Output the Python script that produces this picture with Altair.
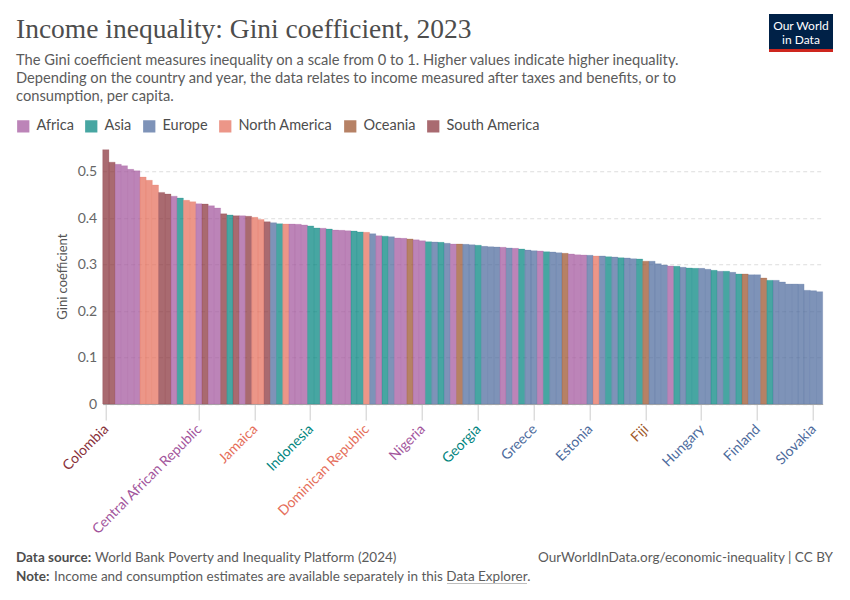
import altair as alt
import pandas as pd

# ---------------- data ----------------
continents = ["Africa", "Asia", "Europe", "North America", "Oceania", "South America"]
code_names = {"AF": "Africa", "AS": "Asia", "EU": "Europe",
              "NA": "North America", "OC": "Oceania", "SA": "South America"}

# continent of each bar, in descending order of Gini
bar_continent = (
    "SA SA AF AF AF AF NA NA NA SA "
    "SA AF AS NA NA AF SA AF AF SA "
    "AS SA AF SA NA NA SA EU AS NA "
    "AF AF AF AS AS AF AS AF AF AF "
    "AS AS NA EU AF AS EU AF AF OC "
    "AF AF AS EU AS EU AF OC EU EU "
    "AS EU EU EU AF EU AF AS EU EU "
    "AF AS EU EU OC AF AF AF EU NA "
    "EU AS EU AS EU EU AS OC EU EU "
    "EU AF AS EU AS AS EU EU AS EU "
    "AS EU AS OC EU EU OC AS EU EU "
    "EU EU EU EU EU EU"
).split()

gini = [0.547, 0.520, 0.5155, 0.5125, 0.5047, 0.5017, 0.488, 0.481, 0.471, 0.455,
        0.4516, 0.447, 0.443, 0.438, 0.435, 0.4308, 0.430, 0.4265, 0.4215, 0.409,
        0.4065, 0.405, 0.405, 0.4037, 0.4015, 0.397, 0.392, 0.390, 0.3877, 0.387,
        0.387, 0.3865, 0.385, 0.383, 0.3785, 0.378, 0.3763, 0.374, 0.3735, 0.3727,
        0.372, 0.370, 0.3692, 0.3662, 0.362, 0.361, 0.3598, 0.357, 0.3563, 0.355,
        0.353, 0.3512, 0.349, 0.3484, 0.3477, 0.3456, 0.344, 0.344, 0.3434, 0.3426,
        0.3413, 0.339, 0.3383, 0.3376, 0.337, 0.3355, 0.3348, 0.3333, 0.331, 0.3297,
        0.329, 0.3275, 0.3269, 0.3254, 0.324, 0.3226, 0.321, 0.3204, 0.3198, 0.3183,
        0.3183, 0.3168, 0.316, 0.3146, 0.314, 0.3125, 0.3118, 0.307, 0.307, 0.3017,
        0.299, 0.2968, 0.2961, 0.294, 0.2925, 0.2918, 0.2918, 0.2897, 0.2875, 0.2854,
        0.2854, 0.2832, 0.2796, 0.2796, 0.278, 0.278, 0.271, 0.266, 0.266, 0.2624,
        0.258, 0.258, 0.2578, 0.2445, 0.2437, 0.2415]

# bar rank -> country name shown on the axis
label_ranks = [1, 16, 25, 34, 43, 52, 61, 70, 79, 88, 97, 106, 115]
label_names = ["Colombia", "Central African Republic", "Jamaica", "Indonesia",
               "Dominican Republic", "Nigeria", "Georgia", "Greece", "Estonia",
               "Fiji", "Hungary", "Finland", "Slovakia"]

y_ticks = [0, 0.1, 0.2, 0.3, 0.4, 0.5]

# ---------------- styles ----------------
bar_colors = ["#A2559C", "#00847E", "#4C6A9C", "#E56E5A", "#9A5129", "#883039"]
label_colors = ["#A2559C", "#00847E", "#4C6A9C", "#E56E5A", "#A0592C", "#883039"]

ranks = list(range(1, len(gini) + 1))
names = dict(zip(label_ranks, label_names))
df = pd.DataFrame({
    "rank": ranks,
    "gini": gini,
    "continent": [code_names[c] for c in bar_continent],
    "country": [names.get(r, "") for r in ranks],
})
df_lab = df[df["country"] != ""]

W, H = 720, 255.75
X0, Y0 = 102.7, 148.25  # page position of plot origin


def px(x):
    return x - X0


def py(y):
    return y - Y0


one = pd.DataFrame({"a": [0]})


def txt(s, x, y, size=13.5, color="#5b5b5b", weight="normal", font="Lato", align="left", baseline="alphabetic"):
    return alt.Chart(one).mark_text(
        text=s, font=font, fontSize=size, color=color, fontWeight=weight,
        align=align, baseline=baseline
    ).encode(x=alt.value(px(x)), y=alt.value(py(y)))


xscale = alt.Scale(paddingInner=0, paddingOuter=0)

bars = alt.Chart(df).mark_bar(fillOpacity=0.72, strokeWidth=0.6, strokeOpacity=0.35).encode(
    x=alt.X("rank:O", sort=None, scale=xscale,
            axis=alt.Axis(values=label_ranks, labels=False, ticks=True, tickSize=16,
                          tickColor="#cccccc", domainColor="#aaaaaa", grid=False, title=None)),
    y=alt.Y("gini:Q", scale=alt.Scale(domain=[0, 0.55], nice=False),
            axis=alt.Axis(values=y_ticks, format="~g", labelFont="Lato", labelFontSize=14,
                          labelColor="#666666", labelPadding=6, ticks=False, domain=False,
                          grid=True, gridColor="#dddddd", gridDash=[4, 3],
                          title="Gini coefficient", titleFont="Lato", titleFontSize=13,
                          titleFontWeight="normal", titleColor="#555555", titlePadding=8)),
    color=alt.Color("continent:N", scale=alt.Scale(domain=continents, range=bar_colors),
                    legend=alt.Legend(orient="none", legendX=px(16), legendY=py(119),
                                      direction="horizontal", title=None, symbolType="square",
                                      symbolSize=150, symbolOpacity=0.72, symbolStrokeWidth=0,
                                      labelFont="Lato", labelFontSize=14.5, labelColor="#4d4d4d",
                                      labelOffset=6, columnPadding=10)),
    stroke=alt.Stroke("continent:N", scale=alt.Scale(domain=continents, range=bar_colors), legend=None),
)

labels = alt.Chart(df_lab).mark_text(angle=315, align="right", baseline="middle",
                                     font="Lato", fontSize=14, dx=1).encode(
    x=alt.X("rank:O", sort=None, scale=xscale),
    y=alt.value(H + 24),
    text="country:N",
    color=alt.Color("continent:N", scale=alt.Scale(domain=continents, range=label_colors), legend=None),
)

title = txt("Income inequality: Gini coefficient, 2023", 16, 38, size=27.5, color="#4d4d4d",
            font="Liberation Serif")
sub1 = txt("The Gini coefficient measures inequality on a scale from 0 to 1. Higher values indicate higher inequality.",
           16, 65, size=14.7)
sub2 = txt("Depending on the country and year, the data relates to income measured after taxes and benefits, or to",
           16, 83, size=14.7)
sub3 = txt("consumption, per capita.", 16, 101, size=14.7)

logo_box = alt.Chart(one).mark_rect(color="#002147").encode(
    x=alt.value(px(769)), x2=alt.value(px(833)), y=alt.value(py(14)), y2=alt.value(py(49)))
logo_red = alt.Chart(one).mark_rect(color="#ce261e").encode(
    x=alt.value(px(769)), x2=alt.value(px(833)), y=alt.value(py(49)), y2=alt.value(py(52)))
logo1 = txt("Our World", 801, 29.5, size=12, color="white", align="center")
logo2 = txt("in Data", 801, 44, size=12, color="white", align="center")

src_b = txt("Data source:", 16, 562, color="#4d4d4d", weight="bold")
src = txt("World Bank Poverty and Inequality Platform (2024)", 95, 562)
note_b = txt("Note:", 16, 581, color="#4d4d4d", weight="bold")
note = txt("Income and consumption estimates are available separately in this Data Explorer.", 54, 581)
underline = alt.Chart(one).mark_rule(color="#5b5b5b", strokeWidth=0.8).encode(
    x=alt.value(px(447)), x2=alt.value(px(527)), y=alt.value(py(584)))
right = txt("OurWorldInData.org/economic-inequality | CC BY", 833, 562, align="right")

chart = alt.layer(
    bars, labels, title, sub1, sub2, sub3, logo_box, logo_red, logo1, logo2,
    src_b, src, note_b, note, underline, right
).resolve_scale(color="independent").properties(
    width=W, height=H,
    padding={"left": X0 - 8, "top": Y0 - 8, "right": 850 - 8 - X0 - W, "bottom": 600 - 8 - Y0 - H - 8},
    autosize=alt.AutoSizeParams(type="none"),
    background="white",
).configure_view(stroke=None)

chart.save("out.html", embed_options={"renderer": "svg", "actions": False})
